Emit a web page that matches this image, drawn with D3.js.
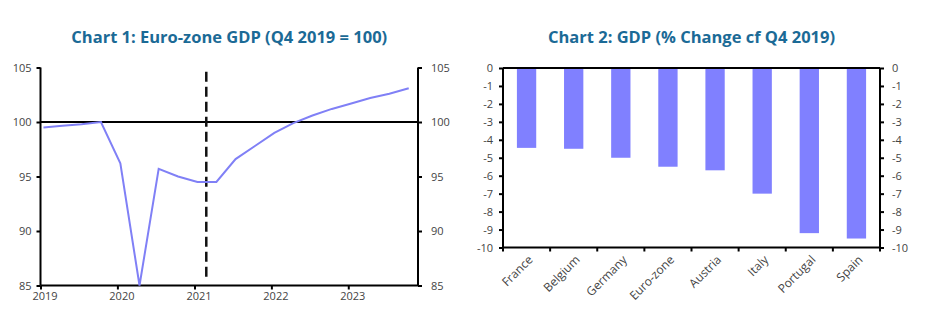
<!DOCTYPE html>
<html>
<head>
<meta charset="utf-8">
<script src="https://cdn.jsdelivr.net/npm/d3@7"></script>
<style>
  body { margin: 0; background: #fff; }
  svg text { font-family: "Open Sans", Lato, sans-serif; }
  .tick text { font-size: 11px; fill: #444; }
  .title { font-size: 16.5px; font-weight: bold; fill: #1b6a96; text-anchor: middle; }
</style>
</head>
<body>
<svg id="chart" width="950" height="330"></svg>
<script>
// Chart 1: euro-zone GDP index, quarterly 2019 Q1 - 2023 Q4 (Q4 2019 = 100)
const gdpYears = [2019, 2020, 2021, 2022, 2023];
const gdpIndex = [
  99.5, 99.65, 99.8, 100.0,
  96.2, 85.0, 95.7, 95.0,
  94.5, 94.5, 96.6, 97.8,
  99.0, 99.9, 100.6, 101.2,
  101.7, 102.2, 102.6, 103.1
];
const forecastStart = new Date(2021, 1, 26);
const yTicks1 = [85, 90, 95, 100, 105];

// Chart 2: % change in GDP vs Q4 2019
const countries = ["France", "Belgium", "Germany", "Euro-zone", "Austria", "Italy", "Portugal", "Spain"];
const gdpChange = [-4.45, -4.5, -5.0, -5.5, -5.7, -7.0, -9.2, -9.5];
const yTicks2 = [0, -1, -2, -3, -4, -5, -6, -7, -8, -9, -10];

const lineColour = "#8080f6";
const barColour = "#8080ff";

const svg = d3.select("#chart");

// plain hyphen for negatives, like the source sheets
const fmt = d => String(d);

// ---------- chart 1 ----------
const c1 = { left: 40.5, right: 418, top: 67.5, bottom: 285.5 };

const quarters = gdpIndex.map((v, i) => ({
  date: new Date(2019 + Math.floor(i / 4), (i % 4) * 3, 15),
  value: v
}));

const x1 = d3.scaleTime()
  .domain([new Date(2019, 0, 1), new Date(2023, 10, 28)])
  .range([c1.left, c1.right]);

const y1 = d3.scaleLinear()
  .domain([85, 105])
  .range([c1.bottom, c1.top]);

const g1 = svg.append("g");

g1.append("text")
  .attr("class", "title")
  .attr("x", (c1.left + c1.right) / 2)
  .attr("y", 43)
  .text("Chart 1: Euro-zone GDP (Q4 2019 = 100)");

// left and right value axes
const leftAxis1 = g1.append("g")
  .attr("transform", `translate(${c1.left},0)`)
  .call(d3.axisLeft(y1).tickValues(yTicks1).tickSize(4).tickPadding(5).tickFormat(fmt));

const rightAxis1 = g1.append("g")
  .attr("transform", `translate(${c1.right},0)`)
  .call(d3.axisRight(y1).tickValues(yTicks1).tickSize(4).tickPadding(9).tickFormat(fmt));

const bottomAxis1 = g1.append("g")
  .attr("transform", `translate(0,${c1.bottom})`)
  .call(d3.axisBottom(x1)
    .tickValues(gdpYears.map(y => new Date(y, 0, 1)))
    .tickSize(4).tickPadding(3)
    .tickFormat(d3.timeFormat("%Y")));
bottomAxis1.selectAll(".tick text").attr("dx", 4);

[leftAxis1, rightAxis1, bottomAxis1].forEach(ax => {
  ax.select(".domain").attr("stroke", "#000").attr("stroke-width", 2);
  ax.selectAll(".tick line").attr("stroke", "#000").attr("stroke-width", 2);
});
leftAxis1.select(".domain").attr("d", `M0,${c1.top}V${c1.bottom}`);
rightAxis1.select(".domain").attr("d", `M0,${c1.top}V${c1.bottom}`);
bottomAxis1.select(".domain").attr("d", `M${c1.left},0H${c1.right}`);

// reference line at 100
g1.append("line")
  .attr("x1", c1.left).attr("x2", c1.right)
  .attr("y1", y1(100)).attr("y2", y1(100))
  .attr("stroke", "#000").attr("stroke-width", 2);

// dashed marker
g1.append("line")
  .attr("x1", x1(forecastStart)).attr("x2", x1(forecastStart))
  .attr("y1", y1(104.6)).attr("y2", y1(85.5))
  .attr("stroke", "#111").attr("stroke-width", 2.5)
  .attr("stroke-dasharray", "10,5");

const line = d3.line()
  .x(d => x1(d.date))
  .y(d => y1(d.value));

g1.append("path")
  .datum(quarters)
  .attr("d", line)
  .attr("fill", "none")
  .attr("stroke", lineColour)
  .attr("stroke-width", 2);

// ---------- chart 2 ----------
const c2 = { left: 503, right: 880, top: 68, bottom: 247.5 };

const x2 = d3.scaleBand()
  .domain(countries)
  .range([c2.left, c2.right])
  .paddingInner(0.59)
  .paddingOuter(0.295);

const y2 = d3.scaleLinear()
  .domain([-10, 0])
  .range([c2.bottom, c2.top]);

const g2 = svg.append("g");

g2.append("text")
  .attr("class", "title")
  .attr("x", (c2.left + c2.right) / 2)
  .attr("y", 43)
  .text("Chart 2: GDP (% Change cf Q4 2019)");

g2.selectAll("rect.bar")
  .data(countries)
  .enter()
  .append("rect")
  .attr("class", "bar")
  .attr("x", d => x2(d))
  .attr("y", y2(0))
  .attr("width", x2.bandwidth())
  .attr("height", (d, i) => y2(gdpChange[i]) - y2(0))
  .attr("fill", barColour);

const leftAxis2 = g2.append("g")
  .attr("transform", `translate(${c2.left},0)`)
  .call(d3.axisLeft(y2).tickValues(yTicks2).tickSize(4).tickPadding(6).tickFormat(fmt));

const rightAxis2 = g2.append("g")
  .attr("transform", `translate(${c2.right},0)`)
  .call(d3.axisRight(y2).tickValues(yTicks2).tickSize(4).tickPadding(8).tickFormat(fmt));

// category axis along the bottom, ticks on band edges
const step = x2.step();
const edges = d3.range(countries.length + 1).map(i => c2.left + i * step);

const bottomAxis2 = g2.append("g")
  .attr("transform", `translate(0,${c2.bottom})`);

bottomAxis2.append("path")
  .attr("class", "domain")
  .attr("d", `M${c2.left},0H${c2.right}`);

bottomAxis2.selectAll("line.edge")
  .data(edges)
  .enter()
  .append("line")
  .attr("class", "edge")
  .attr("x1", d => d).attr("x2", d => d)
  .attr("y1", 0).attr("y2", 4)
  .attr("stroke", "#000").attr("stroke-width", 2);

bottomAxis2.selectAll("text")
  .data(countries)
  .enter()
  .append("text")
  .attr("transform", d => `translate(${x2(d) + x2.bandwidth() / 2 + 4},${10}) rotate(-45)`)
  .attr("text-anchor", "end")
  .attr("dy", "0.35em")
  .attr("font-size", 12)
  .attr("fill", "#444")
  .text(d => d);

// zero line across the top
g2.append("line")
  .attr("x1", c2.left).attr("x2", c2.right)
  .attr("y1", y2(0)).attr("y2", y2(0))
  .attr("stroke", "#000").attr("stroke-width", 2);

[leftAxis2, rightAxis2, bottomAxis2].forEach(ax => {
  ax.select(".domain").attr("stroke", "#000").attr("stroke-width", 2).attr("fill", "none");
  ax.selectAll(".tick line").attr("stroke", "#000").attr("stroke-width", 2);
});
leftAxis2.select(".domain").attr("d", `M0,${c2.top}V${c2.bottom}`);
rightAxis2.select(".domain").attr("d", `M0,${c2.top}V${c2.bottom}`);
</script>
</body>
</html>
